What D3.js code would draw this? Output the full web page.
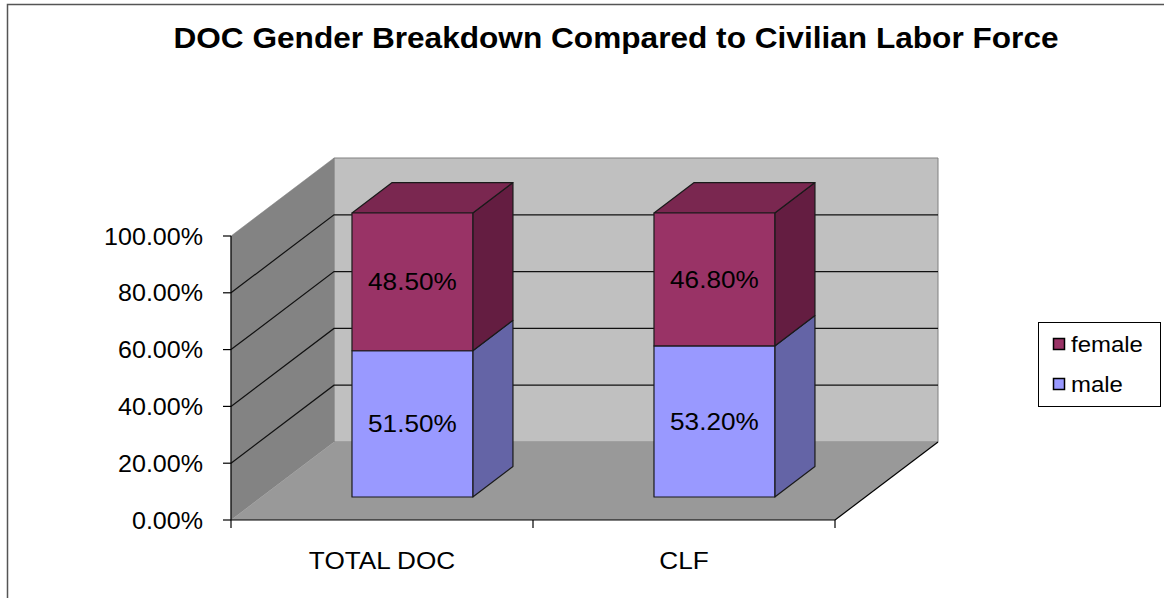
<!DOCTYPE html>
<html>
<head>
<meta charset="utf-8">
<script src="https://cdn.jsdelivr.net/npm/d3@7"></script>
<style>
  body { margin: 0; background: #fff; }
  text { font-family: "Liberation Sans", Arial, sans-serif; fill: #000; }
</style>
</head>
<body>
<div id="chart"></div>
<script>
// chart data
const categories = ["TOTAL DOC", "CLF"];
const seriesNames = ["male", "female"];
const male = [0.515, 0.532];
const female = [0.485, 0.468];
const yTicks = [0, 0.2, 0.4, 0.6, 0.8, 1.0];
const titleText = "DOC Gender Breakdown Compared to Civilian Labor Force";

const W = 1164, H = 598;
const sx = 1.09; // the picture is a bit stretched sideways
const depth = { dx: 103, dy: -78 };
const barZ = [0.295, 0.685];

const colors = {
    male:   { front: "#9999ff", side: "#6464a6", top: "#7c7cd0" },
    female: { front: "#993366", side: "#641d41", top: "#7a2750" }
};

const svg = d3.select("#chart").append("svg")
    .attr("width", W)
    .attr("height", H);

// outer frame
svg.append("rect")
    .attr("x", 7.5).attr("y", 4.5)
    .attr("width", 1300).attr("height", 800)
    .attr("fill", "none")
    .attr("stroke", "#555")
    .attr("stroke-width", 1.5);

// scales
const xScale = d3.scalePoint().domain(categories).range([231, 835]).padding(0.5);
const xEdge = d3.scaleLinear().domain([0, categories.length]).range([231, 835]);
const yScale = d3.scaleLinear().domain([0, 1]).range([520, 236]);
const barW = xScale.step() * 0.4;

// 3d projection, z from 0 (front) to 1 (back)
function P(x, v, z) {
    return [x + z * depth.dx, yScale(v) + z * depth.dy];
}
function poly(pts) {
    return pts.map(p => p.join(",")).join(" ");
}

function addText(g, x, y, str, size, anchor, weight) {
    return g.append("text")
        .attr("transform", `translate(${x},${y}) scale(${sx},1)`)
        .attr("text-anchor", anchor)
        .attr("font-size", size)
        .attr("font-weight", weight || "normal")
        .text(str);
}

// title
addText(svg, 616, 48, titleText, 29, "middle", "bold");

const x0 = xEdge(0), x1 = xEdge(categories.length);

// walls
const walls = svg.append("g").attr("id", "walls");
walls.append("polygon")
    .attr("points", poly([P(x0, 0, 1), P(x1, 0, 1), P(x1, 1, 1), P(x0, 1, 1)]))
    .attr("fill", "#c0c0c0").attr("stroke", "#808080").attr("stroke-width", 1);
walls.append("polygon")
    .attr("points", poly([P(x0, 0, 0), P(x0, 0, 1), P(x0, 1, 1), P(x0, 1, 0)]))
    .attr("fill", "#838383").attr("stroke", "#808080").attr("stroke-width", 0.5);
walls.append("polygon")
    .attr("points", poly([P(x0, 0, 0), P(x1, 0, 0), P(x1, 0, 1), P(x0, 0, 1)]))
    .attr("fill", "#999999").attr("stroke", "none");

// gridlines
const grid = svg.append("g").attr("id", "grid");
yTicks.filter(v => v > 0 && v < 1).forEach(v => {
    grid.append("polyline")
        .attr("points", poly([P(x0, v, 0), P(x0, v, 1), P(x1, v, 1)]))
        .attr("fill", "none")
        .attr("stroke", "#111")
        .attr("stroke-width", 1.2);
});

// floor edges / axes
const axes = svg.append("g").attr("id", "axes");
axes.append("line")
    .attr("x1", x0).attr("y1", yScale(0))
    .attr("x2", x1).attr("y2", yScale(0))
    .attr("stroke", "#000").attr("stroke-width", 1.2);
axes.append("line")
    .attr("x1", x1).attr("y1", yScale(0))
    .attr("x2", P(x1, 0, 1)[0]).attr("y2", P(x1, 0, 1)[1])
    .attr("stroke", "#000").attr("stroke-width", 1.2);
axes.append("line")
    .attr("x1", x0).attr("y1", yScale(0))
    .attr("x2", x0).attr("y2", yScale(1))
    .attr("stroke", "#000").attr("stroke-width", 1.2);

yTicks.forEach(v => {
    axes.append("line")
        .attr("x1", x0 - 8).attr("x2", x0)
        .attr("y1", yScale(v)).attr("y2", yScale(v))
        .attr("stroke", "#000").attr("stroke-width", 1.2);
    addText(axes, 203, yScale(v) + 8.5, d3.format(".2%")(v), 23, "end");
});

d3.range(categories.length + 1).forEach(i => {
    axes.append("line")
        .attr("x1", xEdge(i)).attr("x2", xEdge(i))
        .attr("y1", yScale(0)).attr("y2", yScale(0) + 8)
        .attr("stroke", "#000").attr("stroke-width", 1.2);
});
categories.forEach(c => addText(axes, xScale(c), 569, c, 24, "middle"));

// bars
const bars = svg.append("g").attr("id", "bars");
categories.forEach((c, i) => {
    const segs = [
        { name: "male", lo: 0, hi: male[i] },
        { name: "female", lo: male[i], hi: male[i] + female[i] }
    ];
    const xl = xScale(c) - barW / 2, xr = xScale(c) + barW / 2;
    segs.forEach((s, k) => {
        const col = colors[s.name];
        const g = bars.append("g").attr("stroke", "#1a1a1a").attr("stroke-width", 1.2)
            .attr("stroke-linejoin", "round");
        // right side
        g.append("polygon")
            .attr("points", poly([P(xr, s.lo, barZ[0]), P(xr, s.lo, barZ[1]), P(xr, s.hi, barZ[1]), P(xr, s.hi, barZ[0])]))
            .attr("fill", col.side);
        // top (only the last segment shows it)
        if (k === segs.length - 1) {
            g.append("polygon")
                .attr("points", poly([P(xl, s.hi, barZ[0]), P(xr, s.hi, barZ[0]), P(xr, s.hi, barZ[1]), P(xl, s.hi, barZ[1])]))
                .attr("fill", col.top);
        }
        // front
        g.append("polygon")
            .attr("points", poly([P(xl, s.lo, barZ[0]), P(xr, s.lo, barZ[0]), P(xr, s.hi, barZ[0]), P(xl, s.hi, barZ[0])]))
            .attr("fill", col.front);
        // label
        const mid = P(xScale(c), (s.lo + s.hi) / 2, barZ[0]);
        addText(bars, mid[0], mid[1] + 8.5, d3.format(".2%")(s.hi - s.lo), 24, "middle");
    });
});

// legend
const legend = svg.append("g").attr("id", "legend");
legend.append("rect")
    .attr("x", 1038.5).attr("y", 322.5)
    .attr("width", 122).attr("height", 84)
    .attr("fill", "#fff").attr("stroke", "#000").attr("stroke-width", 1);
["female", "male"].forEach((name, i) => {
    const y = 338 + i * 40;
    legend.append("rect")
        .attr("x", 1053.5).attr("y", y + 0.5)
        .attr("width", 11).attr("height", 11)
        .attr("fill", colors[name].front)
        .attr("stroke", "#000").attr("stroke-width", 1.5);
    addText(legend, 1071, y + 14, name, 22, "start");
});
</script>
</body>
</html>
